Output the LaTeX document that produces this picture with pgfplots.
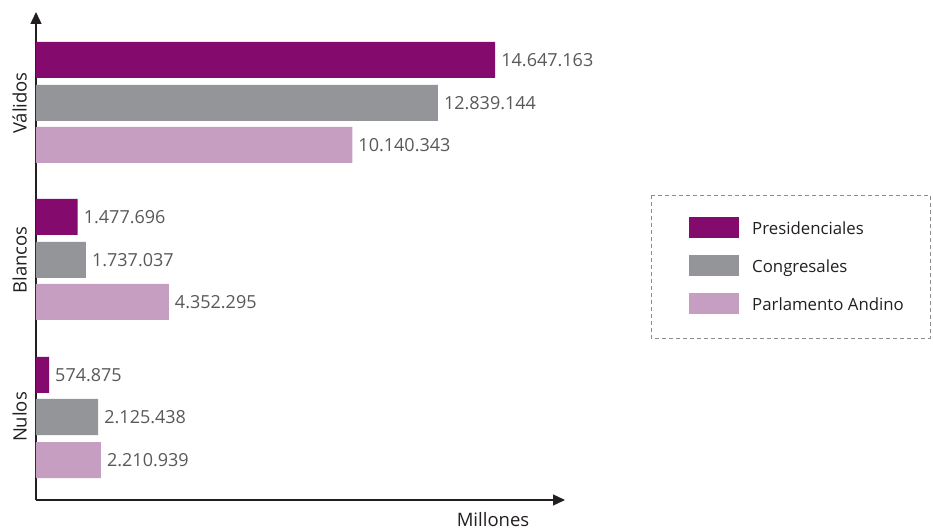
\documentclass[border=0pt]{standalone}
\usepackage{pgfplots}
\pgfplotsset{compat=1.18}
\usetikzlibrary{arrows.meta}
\usepackage{fontspec}
\setmainfont{Open Sans}
\definecolor{pres}{HTML}{850A6E}
\definecolor{cong}{HTML}{939598}
\definecolor{parl}{HTML}{C59EC2}
\definecolor{valtxt}{HTML}{58595B}
\definecolor{axcol}{HTML}{231F20}
\definecolor{boxcol}{HTML}{8C8C8C}

\begin{document}
\begin{tikzpicture}[x=1pt,y=1pt]
\path[use as bounding box] (0,0) rectangle (933,530);
\begin{axis}[
  at={(36pt,30pt)}, anchor=south west,
  scale only axis, width=529pt, height=488pt,
  xmin=0.164, xmax=16.85, ymin=30, ymax=518,
  axis lines=left,
  axis line style={axcol, line width=1.3pt},
  x axis line style={-{Triangle[length=12pt,width=11pt]}},
  y axis line style={-{Triangle[length=12pt,width=11pt]}},
  xtick=\empty,
  ytick={427,270,113}, yticklabels={Válidos,Blancos,Nulos},
  major tick length=0pt,
  yticklabel style={rotate=90, anchor=south, inner sep=9pt, font=\fontsize{18.5}{20}\selectfont, text=axcol},
  xbar, bar width=36pt, bar shift=0pt,
  nodes near coords, point meta=explicit symbolic,
  every node near coord/.append style={anchor=west, text=valtxt, font=\fontsize{18}{20}\selectfont, inner sep=2pt, xshift=4pt},
  legend image code/.code={\fill[#1, draw=none] (0pt,-10.5pt) rectangle (50pt,10.5pt);},
  legend style={at={(rel axis cs:1.2344,0.5799)}, anchor=north west, draw=none, fill=none,
    font=\fontsize{16.8}{18}\selectfont, text=axcol, row sep=17pt, inner sep=0pt,
    nodes={inner sep=0pt, anchor=west, text depth=0pt}, column sep=0pt},
  legend cell align=left,
]
\addplot[fill=pres, draw=none] table[x=x, y=y, meta=label] {
x y label
14.647163 470 14.647.163
1.477696 313 1.477.696
0.574875 155 574.875
};
\addlegendentry{\hspace{13pt}Presidenciales}
\addplot[fill=cong, draw=none] table[x=x, y=y, meta=label] {
x y label
12.839144 427 12.839.144
1.737037 270 1.737.037
2.125438 113 2.125.438
};
\addlegendentry{\hspace{13pt}Congresales}
\addplot[fill=parl, draw=none] table[x=x, y=y, meta=label] {
x y label
10.140343 385 10.140.343
4.352295 228 4.352.295
2.210939 70 2.210.939
};
\addlegendentry{\hspace{13pt}Parlamento Andino}
\end{axis}
\draw[boxcol, line width=0.9pt, dash pattern=on 4pt off 3pt] (651,335) rectangle (930,192);
\node[font=\fontsize{18.5}{20}\selectfont, text=axcol] at (493,10) {Millones};
\end{tikzpicture}
\end{document}
